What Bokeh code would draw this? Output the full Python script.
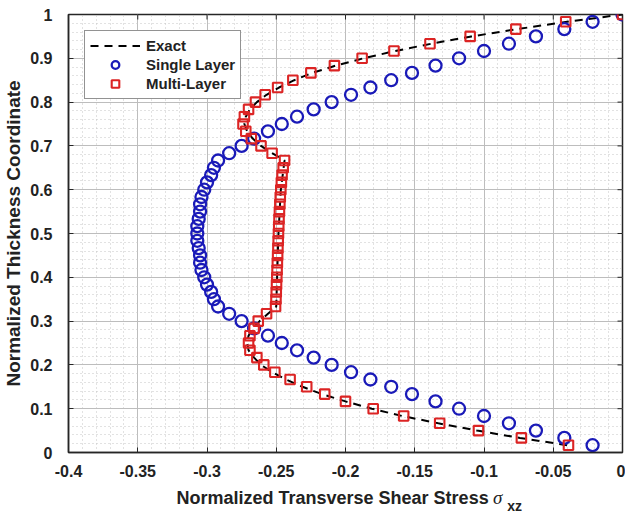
import numpy as np
from bokeh.plotting import figure
from bokeh.layouts import column
from bokeh.models import Range1d, FixedTicker, Legend, LegendItem
from bokeh.core.properties import value
from bokeh.embed import file_html
from bokeh.resources import INLINE

# ---------------- data ----------------
thickness = [0.0167, 0.0333, 0.0500, 0.0667, 0.0833, 0.1000, 0.1167, 0.1333, 0.1500, 0.1667,
             0.1833, 0.2000, 0.2167, 0.2333, 0.2500, 0.2667, 0.2833, 0.3000, 0.3167, 0.3333,
             0.3500, 0.3667, 0.3833, 0.4000, 0.4167, 0.4333, 0.4500, 0.4667, 0.4833, 0.5000,
             0.5167, 0.5333, 0.5500, 0.5667, 0.5833, 0.6000, 0.6167, 0.6333, 0.6500, 0.6667,
             0.6833, 0.7000, 0.7167, 0.7333, 0.7500, 0.7667, 0.7833, 0.8000, 0.8167, 0.8333,
             0.8500, 0.8667, 0.8833, 0.9000, 0.9167, 0.9333, 0.9500, 0.9667, 0.9833, 1.0000]

single_layer = [-0.0216, -0.042, -0.0625, -0.082, -0.100, -0.118, -0.135, -0.152, -0.167, -0.182,
                -0.196, -0.210, -0.223, -0.235, -0.246, -0.256, -0.266, -0.275, -0.284, -0.292,
                -0.295, -0.297, -0.300, -0.302, -0.304, -0.305, -0.305, -0.306, -0.307, -0.307,
                -0.307, -0.306, -0.305, -0.305, -0.304, -0.302, -0.300, -0.297, -0.295, -0.292,
                -0.284, -0.275, -0.266, -0.256, -0.246, -0.235, -0.223, -0.210, -0.196, -0.182,
                -0.167, -0.152, -0.135, -0.118, -0.100, -0.082, -0.0625, -0.042, -0.0216, 0.0]

multi_layer = [-0.039, -0.073, -0.104, -0.132, -0.158, -0.180, -0.200, -0.215, -0.228, -0.240,
               -0.251, -0.259, -0.264, -0.269, -0.270, -0.269, -0.266, -0.263, -0.257, -0.2505,
               -0.2502, -0.2500, -0.2498, -0.2496, -0.2494, -0.2492, -0.2490, -0.2488, -0.2486, -0.2484,
               -0.2482, -0.2480, -0.2477, -0.2474, -0.2471, -0.2467, -0.2463, -0.2458, -0.2450, -0.2440,
               -0.253, -0.261, -0.268, -0.272, -0.274, -0.273, -0.270, -0.265, -0.258, -0.249,
               -0.238, -0.225, -0.208, -0.188, -0.165, -0.139, -0.110, -0.077, -0.041, 0.0]

exact_y = [0.0167, 0.0333, 0.0500, 0.0667, 0.0833, 0.1000, 0.1167, 0.1333, 0.1500, 0.1667,
           0.1833, 0.2000, 0.2167, 0.2333, 0.2500, 0.2667, 0.2833, 0.3000, 0.3167, 0.3333,
           0.4000, 0.5000, 0.6000, 0.6667,
           0.6833, 0.7000, 0.7167, 0.7333, 0.7500, 0.7667, 0.7833, 0.8000, 0.8167, 0.8333,
           0.8500, 0.8667, 0.8833, 0.9000, 0.9167, 0.9333, 0.9500, 0.9667, 0.9833, 1.0000]
exact_x = [-0.040, -0.074, -0.105, -0.133, -0.159, -0.181, -0.200, -0.217, -0.231, -0.243,
           -0.253, -0.261, -0.266, -0.270, -0.271, -0.270, -0.267, -0.262, -0.256, -0.2500,
           -0.2494, -0.2484, -0.2467, -0.2440,
           -0.253, -0.261, -0.267, -0.271, -0.273, -0.272, -0.269, -0.264, -0.257, -0.248,
           -0.237, -0.224, -0.207, -0.187, -0.164, -0.138, -0.109, -0.076, -0.040, 0.0]

x_ticks = [-0.4, -0.35, -0.3, -0.25, -0.2, -0.15, -0.1, -0.05, 0.0]
x_tick_labels = ["-0.4", "-0.35", "-0.3", "-0.25", "-0.2", "-0.15", "-0.1", "-0.05", "0"]
y_ticks = [0.0, 0.1, 0.2, 0.3, 0.4, 0.5, 0.6, 0.7, 0.8, 0.9, 1.0]
y_tick_labels = ["0", "0.1", "0.2", "0.3", "0.4", "0.5", "0.6", "0.7", "0.8", "0.9", "1"]

x_title = "Normalized Transverse Shear Stress"
x_title_symbol = "σ"
x_title_subscript = "xz"
y_title = "Normalized Thickness Coordinate"
series_names = ["Exact", "Single Layer", "Multi-Layer"]

# ---------------- styling ----------------
FONT = "Liberation Sans"
TXT = "#222222"
AX = "#262626"
BLUE = "#1a1ab8"
RED = "#dc2424"

X0, X1, Y0, Y1 = -0.4, 0.0, 0.0, 1.0
FRAME_W, FRAME_H = 556, 438
TICK_LEN = 5

x_minor = list(np.round(np.arange(X0, X1 + 1e-4, 0.01), 4))
y_minor = list(np.round(np.arange(Y0, Y1 + 1e-4, 0.02), 4))

p = figure(width=625, height=482, x_range=Range1d(X0, X1), y_range=Range1d(Y0, Y1),
           output_backend="svg", toolbar_location=None,
           min_border_left=66, min_border_right=3, min_border_top=14, min_border_bottom=30,
           background_fill_color="white", border_fill_color="white")
p.outline_line_color = AX
p.outline_line_width = 1.5

xt = FixedTicker(ticks=x_ticks, minor_ticks=x_minor)
yt = FixedTicker(ticks=y_ticks, minor_ticks=y_minor)

for ax, tk, labels in ((p.xaxis[0], xt, x_tick_labels), (p.yaxis[0], yt, y_tick_labels)):
    ax.ticker = tk
    ax.major_label_overrides = dict(zip(tk.ticks, labels))
    ax.major_label_text_font = FONT
    ax.major_label_text_font_style = "bold"
    ax.major_label_text_font_size = "16px"
    ax.major_label_text_color = TXT
    ax.major_tick_in = TICK_LEN
    ax.major_tick_out = 0
    ax.major_tick_line_color = AX
    ax.minor_tick_line_color = None
    ax.axis_line_color = AX
    ax.axis_line_width = 1.5

p.xaxis[0].major_label_standoff = 8
p.yaxis[0].major_label_standoff = 12
p.yaxis[0].axis_label = y_title
p.yaxis[0].axis_label_text_font = FONT
p.yaxis[0].axis_label_text_font_style = "bold"
p.yaxis[0].axis_label_text_font_size = "19px"
p.yaxis[0].axis_label_text_color = TXT
p.yaxis[0].axis_label_standoff = 3

for g in (p.xgrid[0], p.ygrid[0]):
    g.grid_line_color = "#bdbdbd"
    g.grid_line_width = 1
    g.minor_grid_line_color = "#c4c4c4"
    g.minor_grid_line_dash = "1 3"
    g.minor_grid_line_width = 1

# inward ticks on the top and right edges (box on)
dy = (Y1 - Y0) * TICK_LEN / FRAME_H
dx = (X1 - X0) * TICK_LEN / FRAME_W
p.segment(x0=x_ticks, y0=[Y1] * len(x_ticks), x1=x_ticks, y1=[Y1 - dy] * len(x_ticks),
          line_color=AX, line_width=1)
p.segment(x0=[X1] * len(y_ticks), y0=y_ticks, x1=[X1 - dx] * len(y_ticks), y1=y_ticks,
          line_color=AX, line_width=1)

r_exact = p.line(exact_x, exact_y, line_color="black", line_width=2, line_dash="8 6")
r_single = p.scatter(single_layer, thickness, marker="circle", size=12, fill_color=None,
                     line_color=BLUE, line_width=2.3)
r_multi = p.scatter(multi_layer, thickness, marker="square", size=9.5, fill_color=None,
                    line_color=RED, line_width=2.1)

legend = Legend(items=[LegendItem(label=series_names[0], renderers=[r_exact]),
                       LegendItem(label=series_names[1], renderers=[r_single]),
                       LegendItem(label=series_names[2], renderers=[r_multi])],
                location="top_left")
legend.margin = 16
legend.padding = 5
legend.spacing = 0
legend.glyph_width = 50
legend.glyph_height = 19
legend.label_height = 19
legend.label_standoff = 6
legend.label_text_font = FONT
legend.label_text_font_style = "bold"
legend.label_text_font_size = "15px"
legend.label_text_color = TXT
legend.border_line_color = AX
legend.border_line_width = 1.5
legend.background_fill_color = "white"
legend.background_fill_alpha = 1.0
p.add_layout(legend)

# ---------------- x-axis title strip (pixel coordinates, y from top) ----------------
t = figure(width=625, height=30, x_range=Range1d(0, 625), y_range=Range1d(30, 0),
           output_backend="svg", toolbar_location=None,
           x_axis_location=None, y_axis_location=None,
           min_border=0, min_border_left=0, min_border_right=0,
           min_border_top=0, min_border_bottom=0,
           background_fill_color="white", border_fill_color="white")
t.outline_line_color = None
t.xgrid.visible = False
t.ygrid.visible = False
t.text(x=[474], y=[15], text=[x_title], text_align="right", text_baseline="alphabetic",
       text_font=value(FONT), text_font_style="bold", text_font_size="18px", text_color=TXT)
t.text(x=[479], y=[15], text=[x_title_symbol], text_align="left", text_baseline="alphabetic",
       text_font=value("Liberation Serif"), text_font_style="italic", text_font_size="19px",
       text_color=TXT)
t.text(x=[495], y=[23], text=[x_title_subscript], text_align="left", text_baseline="alphabetic",
       text_font=value(FONT), text_font_style="bold", text_font_size="14px", text_color=TXT)

layout = column(p, t, spacing=0)
open("out.html", "w").write(file_html(layout, INLINE))
